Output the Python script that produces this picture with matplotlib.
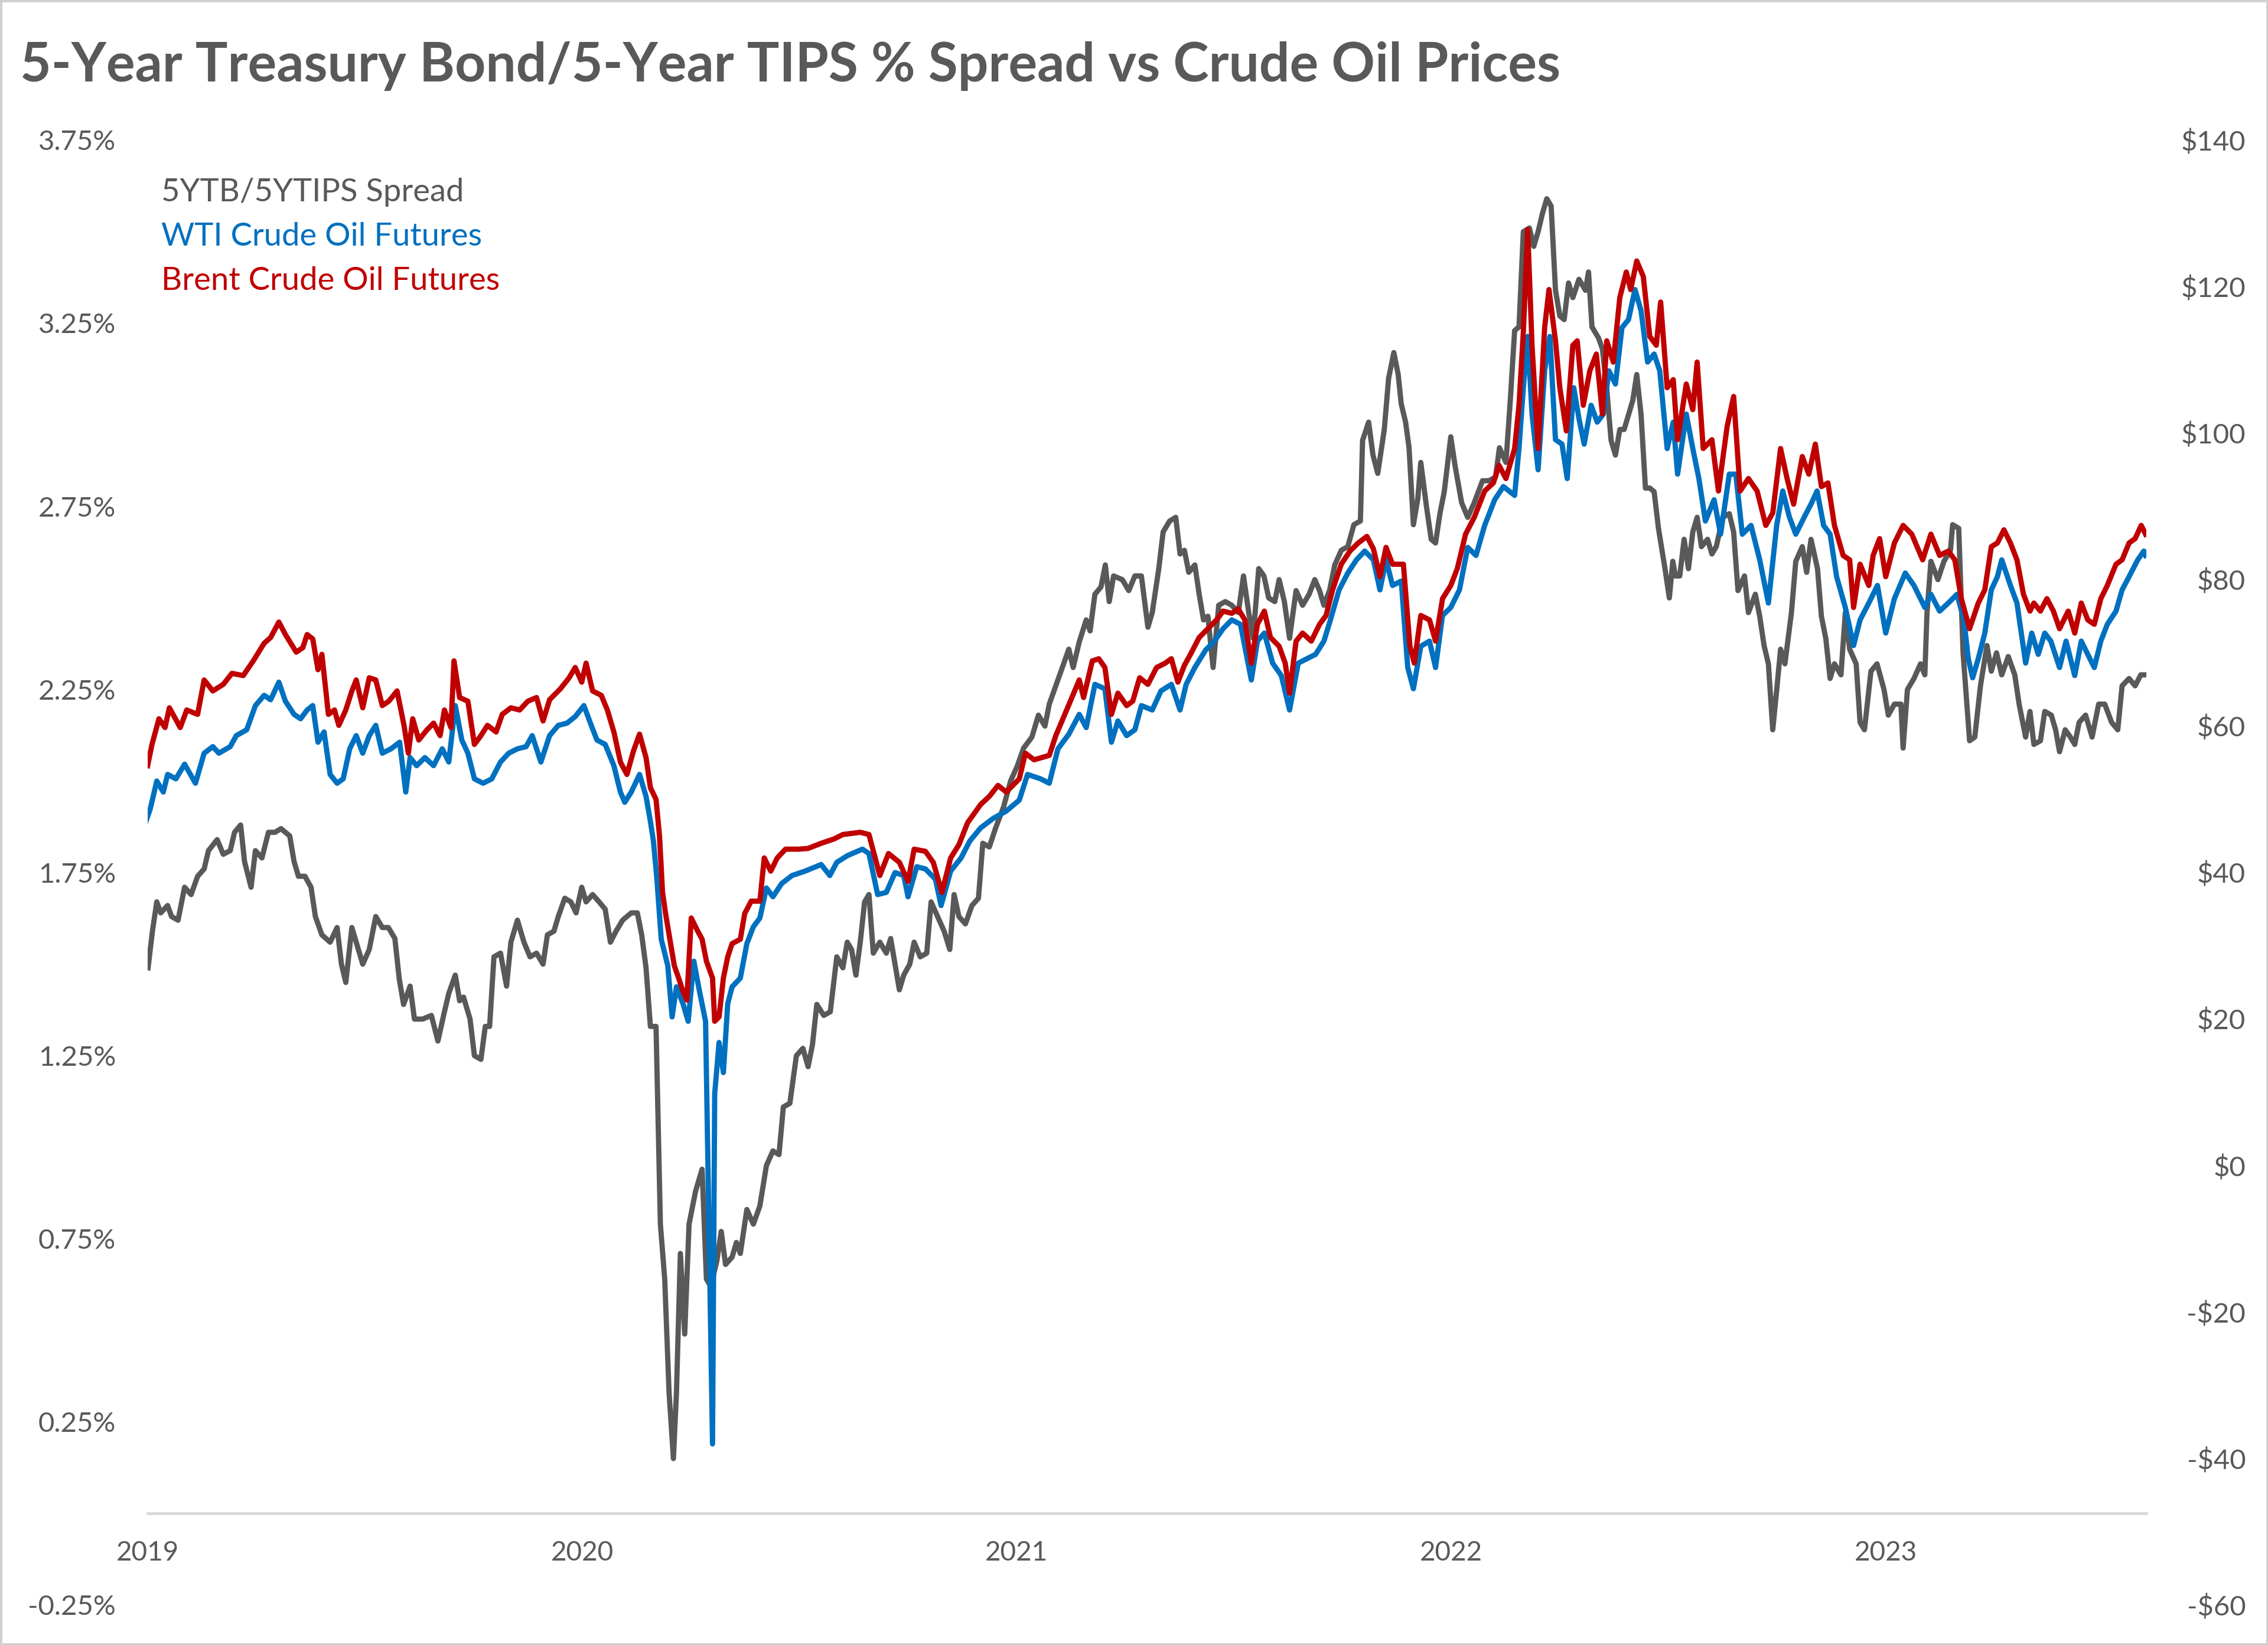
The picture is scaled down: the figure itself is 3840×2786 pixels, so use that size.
import matplotlib
matplotlib.use("Agg")
import matplotlib.pyplot as plt
from matplotlib.patches import Rectangle
import numpy as np

# ---------------- data (decimal years) ----------------
spread_t = [2019.001, 2019.011, 2019.021, 2019.030, 2019.046, 2019.055, 2019.070, 2019.085, 2019.100, 2019.115,
            2019.130, 2019.140, 2019.160, 2019.174, 2019.190, 2019.200, 2019.214, 2019.223, 2019.238, 2019.248,
            2019.263, 2019.278, 2019.293, 2019.307, 2019.327, 2019.337, 2019.347, 2019.362, 2019.376, 2019.386,
            2019.401, 2019.420, 2019.436, 2019.446, 2019.456, 2019.470, 2019.485, 2019.495, 2019.510, 2019.525,
            2019.540, 2019.554, 2019.569, 2019.579, 2019.589, 2019.604, 2019.614, 2019.633, 2019.653, 2019.668,
            2019.683, 2019.693, 2019.708, 2019.718, 2019.727, 2019.742, 2019.752, 2019.767, 2019.777, 2019.787,
            2019.797, 2019.812, 2019.826, 2019.836, 2019.851, 2019.866, 2019.880, 2019.895, 2019.910, 2019.920,
            2019.935, 2019.945, 2019.960, 2019.974, 2019.986, 2019.999, 2020.009, 2020.024, 2020.039, 2020.053,
            2020.065, 2020.078, 2020.093, 2020.113, 2020.127, 2020.137, 2020.147, 2020.157, 2020.170, 2020.180,
            2020.190, 2020.200, 2020.210, 2020.217, 2020.226, 2020.236, 2020.246, 2020.261, 2020.276, 2020.286,
            2020.296, 2020.310, 2020.320, 2020.330, 2020.345, 2020.355, 2020.364, 2020.379, 2020.394, 2020.409,
            2020.424, 2020.439, 2020.453, 2020.463, 2020.478, 2020.493, 2020.508, 2020.520, 2020.530, 2020.540,
            2020.556, 2020.571, 2020.586, 2020.600, 2020.610, 2020.620, 2020.630, 2020.640, 2020.650, 2020.660,
            2020.670, 2020.685, 2020.700, 2020.710, 2020.720, 2020.730, 2020.740, 2020.754, 2020.764, 2020.778,
            2020.793, 2020.803, 2020.818, 2020.833, 2020.846, 2020.856, 2020.867, 2020.882, 2020.897, 2020.912,
            2020.922, 2020.937, 2020.951, 2020.970, 2020.986, 2021.001, 2021.016, 2021.035, 2021.050, 2021.065,
            2021.075, 2021.090, 2021.105, 2021.120, 2021.130, 2021.144, 2021.160, 2021.169, 2021.180, 2021.194,
            2021.204, 2021.213, 2021.223, 2021.243, 2021.258, 2021.272, 2021.287, 2021.302, 2021.312, 2021.327,
            2021.337, 2021.352, 2021.366, 2021.376, 2021.386, 2021.396, 2021.410, 2021.420, 2021.430, 2021.440,
            2021.452, 2021.465, 2021.480, 2021.495, 2021.510, 2021.522, 2021.534, 2021.544, 2021.557, 2021.569,
            2021.580, 2021.594, 2021.604, 2021.616, 2021.628, 2021.643, 2021.658, 2021.673, 2021.686, 2021.697,
            2021.707, 2021.720, 2021.732, 2021.747, 2021.762, 2021.776, 2021.791, 2021.796, 2021.810, 2021.820,
            2021.831, 2021.846, 2021.856, 2021.868, 2021.878, 2021.885, 2021.895, 2021.903, 2021.913, 2021.923,
            2021.930, 2021.943, 2021.954, 2021.964, 2021.974, 2021.984, 2021.999, 2022.009, 2022.024, 2022.038,
            2022.053, 2022.072, 2022.087, 2022.102, 2022.111, 2022.126, 2022.136, 2022.146, 2022.156, 2022.166,
            2022.180, 2022.190, 2022.200, 2022.210, 2022.220, 2022.230, 2022.240, 2022.250, 2022.260, 2022.270,
            2022.280, 2022.294, 2022.309, 2022.316, 2022.324, 2022.339, 2022.348, 2022.358, 2022.368, 2022.378,
            2022.388, 2022.398, 2022.408, 2022.418, 2022.427, 2022.437, 2022.447, 2022.457, 2022.467, 2022.477,
            2022.492, 2022.502, 2022.510, 2022.516, 2022.526, 2022.536, 2022.546, 2022.556, 2022.566, 2022.576,
            2022.590, 2022.600, 2022.610, 2022.625, 2022.640, 2022.650, 2022.660, 2022.675, 2022.684, 2022.700,
            2022.710, 2022.720, 2022.730, 2022.740, 2022.750, 2022.758, 2022.768, 2022.783, 2022.793, 2022.808,
            2022.818, 2022.828, 2022.843, 2022.852, 2022.862, 2022.872, 2022.882, 2022.897, 2022.907, 2022.917,
            2022.932, 2022.941, 2022.951, 2022.966, 2022.980, 2022.996, 2023.006, 2023.020, 2023.035, 2023.040,
            2023.050, 2023.065, 2023.080, 2023.090, 2023.095, 2023.104, 2023.120, 2023.134, 2023.149, 2023.154,
            2023.168, 2023.178, 2023.193, 2023.205, 2023.218, 2023.233, 2023.243, 2023.255, 2023.267, 2023.282,
            2023.297, 2023.307, 2023.322, 2023.332, 2023.341, 2023.356, 2023.366, 2023.381, 2023.391, 2023.400,
            2023.413, 2023.425, 2023.435, 2023.445, 2023.460, 2023.475, 2023.490, 2023.504, 2023.520, 2023.534,
            2023.544, 2023.560, 2023.574, 2023.587, 2023.598]
spread_v = [1.49, 1.59, 1.67, 1.64, 1.66, 1.63, 1.62, 1.71, 1.69, 1.74,
            1.76, 1.81, 1.84, 1.80, 1.81, 1.86, 1.88, 1.78, 1.71, 1.81,
            1.79, 1.86, 1.86, 1.87, 1.85, 1.78, 1.74, 1.74, 1.71, 1.63,
            1.58, 1.56, 1.60, 1.50, 1.45, 1.60, 1.54, 1.50, 1.54, 1.63,
            1.60, 1.60, 1.57, 1.46, 1.39, 1.44, 1.35, 1.35, 1.36, 1.29,
            1.37, 1.42, 1.47, 1.40, 1.41, 1.35, 1.25, 1.24, 1.33, 1.33,
            1.52, 1.53, 1.44, 1.56, 1.62, 1.56, 1.52, 1.53, 1.50, 1.58,
            1.59, 1.63, 1.68, 1.67, 1.64, 1.71, 1.67, 1.69, 1.67, 1.65,
            1.56, 1.59, 1.62, 1.64, 1.64, 1.58, 1.49, 1.33, 1.33, 0.79,
            0.64, 0.33, 0.15, 0.33, 0.71, 0.49, 0.79, 0.88, 0.94, 0.64,
            0.62, 0.69, 0.77, 0.68, 0.70, 0.74, 0.71, 0.83, 0.79, 0.84,
            0.95, 0.99, 0.98, 1.11, 1.12, 1.25, 1.27, 1.22, 1.28, 1.39,
            1.36, 1.37, 1.52, 1.49, 1.56, 1.54, 1.47, 1.56, 1.67, 1.69,
            1.53, 1.56, 1.53, 1.57, 1.50, 1.43, 1.47, 1.50, 1.56, 1.52,
            1.53, 1.67, 1.63, 1.59, 1.54, 1.69, 1.63, 1.61, 1.66, 1.68,
            1.83, 1.82, 1.87, 1.93, 2.00, 2.04, 2.09, 2.12, 2.18, 2.15,
            2.21, 2.26, 2.31, 2.36, 2.31, 2.38, 2.44, 2.41, 2.51, 2.53,
            2.59, 2.49, 2.56, 2.55, 2.52, 2.56, 2.56, 2.42, 2.46, 2.58,
            2.68, 2.71, 2.72, 2.62, 2.63, 2.57, 2.59, 2.51, 2.44, 2.45,
            2.31, 2.48, 2.49, 2.48, 2.46, 2.56, 2.46, 2.39, 2.58, 2.56,
            2.50, 2.49, 2.55, 2.49, 2.39, 2.52, 2.48, 2.51, 2.55, 2.52,
            2.48, 2.52, 2.59, 2.63, 2.64, 2.70, 2.71, 2.93, 2.98, 2.89,
            2.84, 2.96, 3.10, 3.17, 3.11, 3.03, 2.98, 2.91, 2.70, 2.77,
            2.87, 2.75, 2.66, 2.65, 2.73, 2.79, 2.94, 2.86, 2.76, 2.72,
            2.76, 2.82, 2.82, 2.83, 2.91, 2.87, 3.04, 3.23, 3.24, 3.50,
            3.51, 3.46, 3.50, 3.55, 3.59, 3.57, 3.34, 3.27, 3.26, 3.36,
            3.32, 3.37, 3.34, 3.39, 3.24, 3.21, 3.18, 3.07, 2.93, 2.89,
            2.96, 2.96, 3.00, 3.04, 3.11, 3.00, 2.80, 2.80, 2.79, 2.69,
            2.58, 2.50, 2.60, 2.56, 2.56, 2.66, 2.58, 2.68, 2.72, 2.64,
            2.66, 2.62, 2.64, 2.72, 2.73, 2.68, 2.52, 2.56, 2.46, 2.51,
            2.45, 2.37, 2.32, 2.14, 2.26, 2.36, 2.32, 2.46, 2.60, 2.64,
            2.57, 2.66, 2.58, 2.45, 2.39, 2.28, 2.32, 2.29, 2.46, 2.36,
            2.32, 2.16, 2.14, 2.30, 2.32, 2.25, 2.18, 2.21, 2.21, 2.09,
            2.25, 2.28, 2.32, 2.29, 2.46, 2.60, 2.55, 2.60, 2.63, 2.70,
            2.69, 2.35, 2.11, 2.12, 2.26, 2.37, 2.30, 2.35, 2.29, 2.34,
            2.29, 2.21, 2.12, 2.19, 2.10, 2.11, 2.19, 2.18, 2.14, 2.08,
            2.14, 2.12, 2.10, 2.16, 2.18, 2.12, 2.21, 2.21, 2.16, 2.14,
            2.26, 2.28, 2.26, 2.29, 2.29]

wti_t = [2018.996, 2019.006, 2019.021, 2019.036, 2019.046, 2019.065, 2019.085, 2019.110, 2019.130, 2019.150,
         2019.164, 2019.190, 2019.204, 2019.228, 2019.248, 2019.268, 2019.283, 2019.302, 2019.317, 2019.337,
         2019.352, 2019.367, 2019.380, 2019.392, 2019.406, 2019.420, 2019.436, 2019.450, 2019.465, 2019.480,
         2019.495, 2019.510, 2019.525, 2019.540, 2019.560, 2019.580, 2019.594, 2019.604, 2019.619, 2019.638,
         2019.658, 2019.678, 2019.693, 2019.708, 2019.723, 2019.737, 2019.752, 2019.772, 2019.792, 2019.812,
         2019.831, 2019.851, 2019.871, 2019.885, 2019.905, 2019.925, 2019.945, 2019.965, 2019.984, 2020.004,
         2020.019, 2020.034, 2020.053, 2020.073, 2020.088, 2020.098, 2020.113, 2020.132, 2020.147, 2020.157,
         2020.164, 2020.172, 2020.182, 2020.197, 2020.207, 2020.217, 2020.232, 2020.244, 2020.257, 2020.270,
         2020.284, 2020.294, 2020.300, 2020.305, 2020.315, 2020.325, 2020.335, 2020.345, 2020.364, 2020.379,
         2020.394, 2020.409, 2020.424, 2020.439, 2020.459, 2020.483, 2020.513, 2020.550, 2020.570, 2020.586,
         2020.610, 2020.645, 2020.660, 2020.680, 2020.700, 2020.720, 2020.740, 2020.750, 2020.770, 2020.790,
         2020.813, 2020.826, 2020.848, 2020.872, 2020.892, 2020.917, 2020.946, 2020.976, 2021.006, 2021.025,
         2021.055, 2021.075, 2021.095, 2021.120, 2021.144, 2021.160, 2021.180, 2021.203, 2021.218, 2021.233,
         2021.253, 2021.272, 2021.287, 2021.312, 2021.332, 2021.356, 2021.376, 2021.390, 2021.410, 2021.435,
         2021.455, 2021.475, 2021.495, 2021.515, 2021.540, 2021.554, 2021.570, 2021.589, 2021.609, 2021.628,
         2021.648, 2021.668, 2021.688, 2021.707, 2021.722, 2021.742, 2021.762, 2021.782, 2021.801, 2021.821,
         2021.836, 2021.850, 2021.865, 2021.885, 2021.900, 2021.913, 2021.930, 2021.950, 2021.964, 2021.980,
         2021.999, 2022.019, 2022.038, 2022.057, 2022.077, 2022.100, 2022.120, 2022.146, 2022.156, 2022.166,
         2022.176, 2022.186, 2022.200, 2022.215, 2022.227, 2022.240, 2022.255, 2022.267, 2022.282, 2022.294,
         2022.306, 2022.322, 2022.336, 2022.350, 2022.363, 2022.378, 2022.393, 2022.408, 2022.423, 2022.437,
         2022.452, 2022.467, 2022.480, 2022.497, 2022.511, 2022.521, 2022.541, 2022.556, 2022.570, 2022.585,
         2022.605, 2022.620, 2022.640, 2022.655, 2022.670, 2022.690, 2022.710, 2022.730, 2022.749, 2022.763,
         2022.778, 2022.793, 2022.813, 2022.828, 2022.842, 2022.857, 2022.872, 2022.887, 2022.907, 2022.926,
         2022.941, 2022.961, 2022.981, 2023.000, 2023.020, 2023.045, 2023.065, 2023.090, 2023.104, 2023.124,
         2023.144, 2023.164, 2023.180, 2023.190, 2023.200, 2023.213, 2023.228, 2023.243, 2023.257, 2023.267,
         2023.287, 2023.302, 2023.322, 2023.336, 2023.351, 2023.366, 2023.380, 2023.400, 2023.415, 2023.435,
         2023.450, 2023.465, 2023.480, 2023.495, 2023.510, 2023.530, 2023.544, 2023.560, 2023.580, 2023.594,
         2023.598]
wti_v = [47.0, 48.7, 52.5, 51.0, 53.4, 52.8, 54.8, 52.2, 56.3, 57.2,
         56.3, 57.2, 58.7, 59.5, 62.8, 64.2, 63.6, 66.0, 63.4, 61.6,
         61.0, 62.2, 62.8, 57.8, 59.2, 53.4, 52.2, 52.8, 56.9, 58.7,
         56.3, 58.7, 60.1, 56.3, 56.9, 57.8, 51.0, 55.7, 54.6, 55.7,
         54.6, 56.9, 55.1, 62.8, 58.1, 56.3, 52.8, 52.2, 52.8, 55.1,
         56.3, 56.9, 57.2, 58.7, 55.1, 58.7, 60.1, 60.4, 61.3, 62.8,
         60.4, 58.1, 57.5, 54.6, 51.0, 49.6, 51.0, 53.4, 50.4, 47.0,
         44.3, 39.1, 30.9, 27.3, 20.3, 24.4, 22.1, 19.7, 27.9, 23.8,
         19.7, -16.6, -38.0, 9.8, 16.8, 12.7, 22.1, 24.4, 25.6, 30.3,
         32.6, 33.8, 37.9, 36.7, 38.5, 39.6, 40.2, 41.1, 39.6, 41.4,
         42.3, 43.2, 42.6, 37.0, 37.3, 40.0, 39.6, 36.7, 40.8, 40.5,
         39.1, 35.5, 40.2, 42.0, 44.3, 46.1, 47.4, 48.4, 49.9, 53.4,
         52.8, 52.2, 56.9, 58.9, 61.6, 59.8, 65.7, 65.1, 57.8, 60.7,
         58.7, 59.5, 62.8, 62.2, 64.8, 65.7, 62.2, 65.7, 68.0, 70.4,
         71.6, 73.3, 74.5, 73.9, 66.3, 71.6, 72.7, 68.6, 66.9, 62.2,
         68.6, 69.2, 69.8, 71.6, 74.5, 78.6, 80.9, 82.7, 83.9, 82.7,
         78.6, 82.7, 79.2, 79.8, 68.0, 65.1, 70.9, 71.6, 68.0, 75.1,
         76.2, 78.6, 84.4, 83.3, 87.4, 90.9, 92.7, 91.5, 97.9, 106.2,
         113.2, 102.6, 95.0, 108.5, 113.2, 99.1, 98.5, 93.8, 106.2, 102.0,
         98.5, 103.8, 101.5, 102.6, 108.5, 106.7, 114.4, 115.5, 119.6, 116.7,
         109.7, 110.8, 108.5, 97.9, 101.5, 94.4, 102.6, 97.9, 93.8, 88.0,
         90.9, 86.2, 94.4, 94.4, 86.2, 87.4, 82.7, 76.8, 87.4, 92.1,
         88.6, 86.2, 88.6, 90.3, 92.1, 87.4, 86.2, 80.4, 76.2, 71.0,
         74.5, 76.8, 79.2, 72.7, 77.4, 80.9, 79.2, 76.2, 78.0, 75.7,
         76.8, 78.0, 74.5, 69.2, 66.6, 69.2, 72.7, 78.6, 80.4, 82.7,
         79.2, 76.8, 68.6, 72.7, 69.8, 72.7, 71.6, 68.0, 71.6, 66.9,
         71.6, 69.8, 68.0, 71.6, 73.9, 75.7, 78.6, 80.4, 82.7, 83.9,
         83.3]

brent_t = [2019.000, 2019.010, 2019.026, 2019.040, 2019.050, 2019.075, 2019.090, 2019.115, 2019.130, 2019.150,
           2019.174, 2019.194, 2019.220, 2019.243, 2019.268, 2019.283, 2019.302, 2019.317, 2019.342, 2019.357,
           2019.367, 2019.380, 2019.392, 2019.401, 2019.416, 2019.430, 2019.440, 2019.456, 2019.470, 2019.480,
           2019.495, 2019.510, 2019.525, 2019.540, 2019.555, 2019.574, 2019.590, 2019.600, 2019.610, 2019.624,
           2019.643, 2019.658, 2019.673, 2019.683, 2019.698, 2019.705, 2019.718, 2019.737, 2019.752, 2019.767,
           2019.782, 2019.802, 2019.816, 2019.836, 2019.856, 2019.875, 2019.895, 2019.910, 2019.925, 2019.950,
           2019.970, 2019.984, 2019.999, 2020.009, 2020.024, 2020.044, 2020.058, 2020.073, 2020.088, 2020.103,
           2020.118, 2020.132, 2020.147, 2020.157, 2020.170, 2020.178, 2020.185, 2020.192, 2020.212, 2020.222,
           2020.232, 2020.241, 2020.251, 2020.266, 2020.276, 2020.286, 2020.300, 2020.305, 2020.315, 2020.325,
           2020.335, 2020.345, 2020.364, 2020.374, 2020.389, 2020.409, 2020.419, 2020.434, 2020.449, 2020.468,
           2020.498, 2020.520, 2020.550, 2020.580, 2020.600, 2020.640, 2020.660, 2020.685, 2020.705, 2020.730,
           2020.750, 2020.764, 2020.790, 2020.808, 2020.828, 2020.848, 2020.867, 2020.887, 2020.917, 2020.937,
           2020.957, 2020.976, 2021.006, 2021.020, 2021.040, 2021.075, 2021.090, 2021.115, 2021.144, 2021.154,
           2021.174, 2021.189, 2021.203, 2021.218, 2021.233, 2021.253, 2021.267, 2021.283, 2021.302, 2021.322,
           2021.342, 2021.356, 2021.371, 2021.386, 2021.400, 2021.420, 2021.440, 2021.460, 2021.475, 2021.495,
           2021.510, 2021.525, 2021.540, 2021.554, 2021.570, 2021.584, 2021.604, 2021.618, 2021.628, 2021.643,
           2021.658, 2021.678, 2021.697, 2021.712, 2021.727, 2021.747, 2021.767, 2021.786, 2021.806, 2021.821,
           2021.836, 2021.850, 2021.865, 2021.890, 2021.905, 2021.915, 2021.930, 2021.950, 2021.964, 2021.980,
           2021.999, 2022.014, 2022.033, 2022.053, 2022.077, 2022.097, 2022.110, 2022.126, 2022.146, 2022.156,
           2022.166, 2022.176, 2022.186, 2022.200, 2022.215, 2022.225, 2022.240, 2022.250, 2022.265, 2022.280,
           2022.290, 2022.304, 2022.319, 2022.334, 2022.348, 2022.358, 2022.373, 2022.388, 2022.403, 2022.413,
           2022.427, 2022.442, 2022.457, 2022.472, 2022.482, 2022.497, 2022.511, 2022.521, 2022.541, 2022.556,
           2022.566, 2022.580, 2022.600, 2022.615, 2022.635, 2022.650, 2022.665, 2022.684, 2022.704, 2022.724,
           2022.740, 2022.758, 2022.773, 2022.788, 2022.808, 2022.823, 2022.838, 2022.852, 2022.867, 2022.882,
           2022.902, 2022.917, 2022.926, 2022.941, 2022.961, 2022.971, 2022.986, 2023.000, 2023.020, 2023.040,
           2023.060, 2023.085, 2023.104, 2023.124, 2023.144, 2023.159, 2023.174, 2023.193, 2023.213, 2023.228,
           2023.243, 2023.257, 2023.272, 2023.287, 2023.302, 2023.317, 2023.332, 2023.341, 2023.356, 2023.371,
           2023.386, 2023.400, 2023.420, 2023.435, 2023.450, 2023.465, 2023.480, 2023.495, 2023.510, 2023.530,
           2023.544, 2023.560, 2023.574, 2023.588, 2023.598]
brent_v = [54.6, 57.5, 61.0, 59.8, 62.5, 59.8, 62.2, 61.6, 66.3, 64.8,
           65.7, 67.2, 66.9, 68.9, 71.3, 72.1, 74.2, 72.5, 70.1, 70.7,
           72.5, 71.9, 67.7, 69.8, 61.6, 62.2, 60.1, 62.2, 64.8, 66.3,
           62.5, 66.6, 66.3, 62.8, 63.4, 64.8, 60.1, 56.3, 61.0, 58.1,
           59.5, 60.4, 58.7, 62.2, 59.8, 68.9, 63.9, 63.4, 57.5, 58.7,
           60.1, 59.2, 61.6, 62.5, 62.2, 63.4, 63.9, 60.7, 63.6, 65.1,
           66.6, 68.0, 66.0, 68.6, 64.8, 64.2, 62.2, 59.2, 55.1, 53.4,
           56.6, 58.9, 55.7, 51.6, 50.0, 45.0, 37.3, 34.4, 27.3, 25.6,
           23.8, 22.6, 33.8, 32.0, 30.9, 27.9, 25.6, 19.7, 20.3, 25.6,
           28.5, 30.3, 30.9, 34.4, 36.1, 36.1, 42.0, 40.2, 42.0, 43.2,
           43.2, 43.3, 44.0, 44.6, 45.2, 45.5, 45.2, 39.6, 42.6, 41.4,
           38.8, 43.2, 42.9, 41.4, 37.3, 42.0, 43.8, 46.8, 49.3, 50.4,
           51.9, 51.0, 52.8, 56.3, 55.4, 56.0, 58.7, 62.2, 66.3, 63.9,
           68.9, 69.2, 68.0, 61.6, 64.5, 62.8, 63.4, 66.6, 65.7, 68.0,
           68.6, 69.2, 66.0, 68.3, 69.8, 72.1, 73.3, 74.5, 75.7, 75.4,
           76.0, 74.5, 68.6, 73.9, 75.7, 72.1, 70.9, 68.6, 64.5, 71.6,
           72.7, 71.6, 73.9, 75.1, 78.6, 82.1, 83.9, 85.0, 85.9, 84.2,
           80.4, 84.4, 82.1, 82.1, 70.9, 68.6, 75.1, 74.5, 71.6, 77.4,
           79.2, 81.5, 86.2, 88.5, 92.1, 93.2, 95.6, 93.8, 97.9, 103.8,
           113.8, 127.8, 112.0, 97.9, 114.4, 119.6, 112.6, 106.2, 100.3, 112.0,
           112.6, 103.8, 108.5, 110.8, 102.6, 112.6, 109.7, 118.5, 122.0, 119.6,
           123.5, 121.4, 113.2, 112.0, 117.9, 106.2, 107.3, 99.1, 106.7, 103.2,
           109.7, 97.9, 99.1, 92.1, 100.9, 105.0, 92.1, 93.8, 92.1, 87.4,
           89.1, 97.9, 93.8, 90.3, 96.8, 94.4, 98.5, 92.7, 93.2, 87.4,
           83.3, 82.7, 76.2, 82.1, 79.2, 83.3, 85.6, 80.4, 85.0, 87.4,
           86.2, 82.7, 86.2, 83.3, 83.9, 82.7, 77.4, 73.3, 76.8, 78.6,
           84.5, 85.0, 86.8, 85.0, 82.7, 78.0, 75.7, 76.8, 75.7, 77.4,
           75.7, 73.3, 75.7, 72.7, 76.8, 74.5, 73.9, 77.4, 79.2, 82.1,
           82.7, 85.0, 85.6, 87.4, 86.2]

year_ticks = [2019, 2020, 2021, 2022, 2023]
pct_ticks = [-0.25, 0.25, 0.75, 1.25, 1.75, 2.25, 2.75, 3.25, 3.75]
usd_ticks = [-60, -40, -20, 0, 20, 40, 60, 80, 100, 120, 140]

title = "5-Year Treasury Bond/5-Year TIPS % Spread vs Crude Oil Prices"
series_names = ["5YTB/5YTIPS Spread", "WTI Crude Oil Futures", "Brent Crude Oil Futures"]

# ---------------- style ----------------
FONT = ["Lato", "DejaVu Sans"]
plt.rcParams['font.family'] = FONT
TXT = "#595959"
C_GRAY, C_BLUE, C_RED = "#595959", "#0070C0", "#C00000"
LW = 3.2

fig = plt.figure(figsize=(19.2, 13.93), dpi=200)
fig.patch.set_facecolor("white")
ax = fig.add_axes([0.0651, 0.0243, 0.8813, 0.8905])
ax2 = ax.twinx()

ax.plot(spread_t, spread_v, color=C_GRAY, lw=LW, solid_joinstyle='round', zorder=3)
ax2.plot(wti_t, wti_v, color=C_BLUE, lw=LW, solid_joinstyle='round', zorder=3)
ax2.plot(brent_t, brent_v, color=C_RED, lw=LW, solid_joinstyle='round', zorder=4)

ax.set_xlim(2019.0, 2023.6)
ax.set_ylim(-0.25, 3.75)
ax2.set_ylim(-60, 140)

for s in ["top", "right", "left"]:
    ax.spines[s].set_visible(False)
for s in ["top", "right", "left", "bottom"]:
    ax2.spines[s].set_visible(False)
ax.spines["bottom"].set_position(("data", 0))
ax.spines["bottom"].set_color("#D9D9D9")
ax.spines["bottom"].set_linewidth(1.75)
ax.spines["bottom"].set_zorder(1)

ax.set_xticks(year_ticks)
ax.set_xticklabels([str(y) for y in year_ticks])
ax.set_yticks(pct_ticks)
ax.set_yticklabels([f"{v:.2f}%" for v in pct_ticks])
ax2.set_yticks(usd_ticks)
ax2.set_yticklabels([("-$" if v < 0 else "$") + f"{abs(v)}" for v in usd_ticks])

ax.tick_params(axis="x", length=0, pad=16.5, labelsize=16.5, labelcolor=TXT)
ax.tick_params(axis="y", length=0, pad=19.4, labelsize=17, labelcolor=TXT)
ax2.tick_params(axis="y", length=0, pad=60.5, labelsize=17, labelcolor=TXT)
for lab in ax2.get_yticklabels():
    lab.set_horizontalalignment("right")

fig.text(0.0089, 0.9503, title, fontsize=32.8, fontweight="bold", color=TXT,
         ha="left", va="baseline")

for name, col, yb in zip(series_names, [C_GRAY, C_BLUE, C_RED], [0.8776, 0.8508, 0.8236]):
    fig.text(0.0711, yb, name, fontsize=19.6, color=col, ha="left", va="baseline")

fig.patches.append(Rectangle((0, 0), 1, 1, transform=fig.transFigure, fill=False,
                             edgecolor="#D0D0D0", lw=2.5, zorder=10))

fig.savefig("out.png", dpi=200, facecolor="white")
